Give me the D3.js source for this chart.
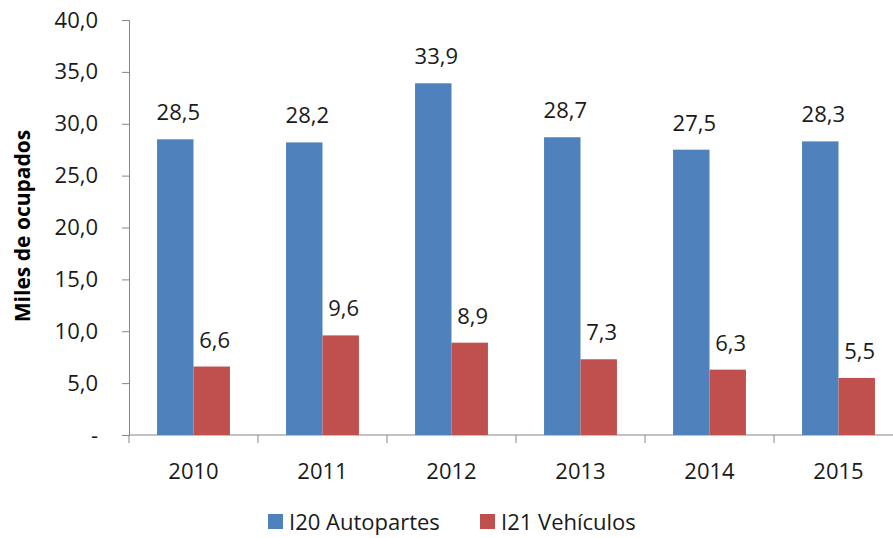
<!DOCTYPE html>
<meta charset="utf-8">
<script src="https://d3js.org/d3.v7.min.js"></script>
<style>
  body { margin: 0; background: #fff; }
  text { font-family: "Open Sans", sans-serif; fill: #1a1a1a; }
</style>
<div id="chart"></div>
<script>
// data
var years = ["2010", "2011", "2012", "2013", "2014", "2015"];
var series = ["I20 Autopartes", "I21 Vehículos"];
var autopartes = [28.5, 28.2, 33.9, 28.7, 27.5, 28.3];
var vehiculos = [6.6, 9.6, 8.9, 7.3, 6.3, 5.5];
var yTicks = [0, 5, 10, 15, 20, 25, 30, 35, 40];
var colors = ["#4F81BD", "#C0504D"];

var W = 893, H = 538;
var plotLeft = 129, plotTop = 20, plotBottom = 435, plotRight = 903;

var svg = d3.select("#chart").append("svg")
    .attr("width", W)
    .attr("height", H);

var y = d3.scaleLinear().domain([0, 40]).range([plotBottom, plotTop]);

var x0 = d3.scaleBand().domain(years).range([plotLeft, plotRight]).padding(0);
var x1 = d3.scaleBand().domain(series).range([0, x0.bandwidth()])
    .paddingInner(0).paddingOuter(0.77);

var fmt = function (d) { return d === 0 ? "-" : d3.format(".1f")(d).replace(".", ","); };

// y axis
var gy = svg.append("g")
    .attr("transform", "translate(" + plotLeft + ",0)")
    .call(d3.axisLeft(y).tickValues(yTicks).tickSize(7).tickPadding(24).tickFormat(fmt));
gy.select(".domain").attr("stroke", "#868686");
gy.selectAll(".tick line").attr("stroke", "#868686");
gy.selectAll(".tick text").style("font-size", "22px").style("fill", "#1a1a1a")
    .style("font-family", "'Open Sans', sans-serif");

// x axis
var gx = svg.append("g")
    .attr("transform", "translate(0," + plotBottom + ")");
gx.append("line")
    .attr("x1", plotLeft).attr("x2", plotRight)
    .attr("stroke", "#868686");
gx.selectAll(".sep")
    .data(years)
    .enter().append("line")
    .attr("x1", function (d) { return x0(d); })
    .attr("x2", function (d) { return x0(d); })
    .attr("y1", 0).attr("y2", 8)
    .attr("stroke", "#868686");
gx.selectAll(".lab")
    .data(years)
    .enter().append("text")
    .attr("x", function (d) { return x0(d) + x0.bandwidth() / 2; })
    .attr("y", 44)
    .attr("text-anchor", "middle")
    .style("font-size", "22px")
    .text(function (d) { return d; });

// bars
var rows = years.map(function (yr, i) {
    return { year: yr, vals: [autopartes[i], vehiculos[i]] };
});

var groups = svg.selectAll(".grp")
    .data(rows)
    .enter().append("g")
    .attr("transform", function (d) { return "translate(" + x0(d.year) + ",0)"; });

groups.selectAll("rect")
    .data(function (d) { return d.vals.map(function (v, j) { return { s: series[j], v: v, j: j }; }); })
    .enter().append("rect")
    .attr("x", function (d) { return x1(d.s); })
    .attr("width", x1.bandwidth())
    .attr("y", function (d) { return y(d.v); })
    .attr("height", function (d) { return plotBottom - y(d.v); })
    .attr("fill", function (d) { return colors[d.j]; });

groups.selectAll(".val")
    .data(function (d) { return d.vals.map(function (v, j) { return { s: series[j], v: v }; }); })
    .enter().append("text")
    .attr("x", function (d) { return x1(d.s) + x1.bandwidth() / 2 + 3; })
    .attr("y", function (d) { return y(d.v) - 19; })
    .attr("text-anchor", "middle")
    .style("font-size", "22px")
    .text(function (d) { return fmt(d.v); });

// y title
svg.append("text")
    .attr("transform", "translate(30,226) rotate(-90)")
    .attr("text-anchor", "middle")
    .style("font-size", "21px")
    .style("font-weight", "bold")
    .style("fill", "#000")
    .text("Miles de ocupados");

// legend
var leg = svg.append("g").attr("transform", "translate(268,522)");
var legX = [0, 212];
series.forEach(function (s, i) {
    leg.append("rect")
        .attr("x", legX[i]).attr("y", -8)
        .attr("width", 15).attr("height", 15)
        .attr("fill", colors[i]);
    leg.append("text")
        .attr("x", legX[i] + 21).attr("y", 8)
        .style("font-size", "22px")
        .text(s);
});
</script>
